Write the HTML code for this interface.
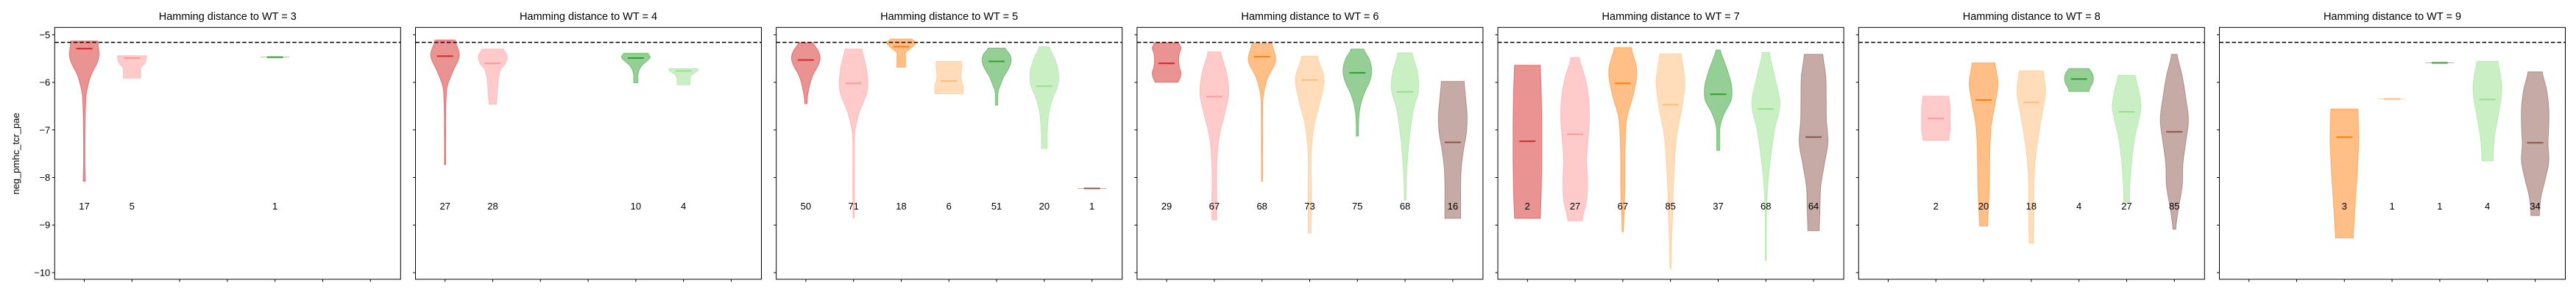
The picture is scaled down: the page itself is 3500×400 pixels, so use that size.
<!DOCTYPE html>
<html><head><meta charset="utf-8"><style>
html,body{margin:0;padding:0;background:#fff;}
svg{display:block;font-family:"Liberation Sans","DejaVu Sans",sans-serif;}
</style></head><body>
<svg id="chart" width="3500" height="400" viewBox="0 0 3500 400" xmlns="http://www.w3.org/2000/svg"></svg>
<script>
const panelTitles = ["Hamming distance to WT = 3","Hamming distance to WT = 4","Hamming distance to WT = 5","Hamming distance to WT = 6","Hamming distance to WT = 7","Hamming distance to WT = 8","Hamming distance to WT = 9"];
const yTicks = [-5,-6,-7,-8,-9,-10];
const yTickLabels = ["\u22125","\u22126","\u22127","\u22128","\u22129","\u221210"];
const categories = [0,1,2,3,4,5,6];
const wtLine = -5.16;
const countLabelY = -8.6;
const seriesColors = ["#d62728","#ff9896","#ff7f0e","#ffbb78","#2ca02c","#98df8a","#8c564b"];
// each violin: category, count, top, bottom, median, relative width profile (top -> bottom)
const panel3 = [
 {c:0,n:17,top:-5.13,bot:-8.08,med:-5.29,w:[0.95,1.0,0.45,0.15,0.08,0.06,0.05,0.05,0.08]},
 {c:1,n:5,top:-5.44,bot:-5.91,med:-5.49,w:[1,1,0.95,0.85,0.65,0.6,0.6,0.6,0.6]},
 {c:4,n:1,top:-5.47,bot:-5.47,med:-5.47,w:[1]}
];
const panel4 = [
 {c:0,n:27,top:-5.11,bot:-7.73,med:-5.45,w:[0.7,1.0,0.55,0.15,0.07,0.05,0.05,0.04,0.05]},
 {c:1,n:28,top:-5.30,bot:-6.46,med:-5.60,w:[0.75,1.0,0.9,0.55,0.42,0.36,0.33,0.3,0.25]},
 {c:4,n:10,top:-5.39,bot:-6.01,med:-5.49,w:[0.85,1.0,0.8,0.5,0.3,0.2,0.15,0.15,0.15]},
 {c:5,n:4,top:-5.71,bot:-6.05,med:-5.76,w:[1,1,0.8,0.6,0.5,0.45,0.45,0.45,0.45]}
];
const panel5 = [
 {c:0,n:50,top:-5.17,bot:-6.45,med:-5.53,w:[0.5,0.85,1.0,0.85,0.55,0.35,0.22,0.12,0.08]},
 {c:1,n:71,top:-5.30,bot:-8.85,med:-6.02,w:[0.6,0.92,0.95,0.4,0.08,0.05,0.05,0.05,0.04]},
 {c:2,n:18,top:-5.09,bot:-5.68,med:-5.25,w:[0.75,1.0,0.85,0.55,0.3,0.3,0.3,0.3,0.3]},
 {c:3,n:6,top:-5.56,bot:-6.24,med:-5.97,w:[0.88,0.9,0.88,0.85,0.85,0.9,0.98,1.0,1.0]},
 {c:4,n:51,top:-5.28,bot:-6.48,med:-5.56,w:[0.6,0.95,1.0,0.8,0.5,0.3,0.12,0.08,0.08]},
 {c:5,n:20,top:-5.25,bot:-7.39,med:-6.08,w:[0.35,0.75,0.98,0.95,0.6,0.35,0.25,0.2,0.2]},
 {c:6,n:1,top:-8.23,bot:-8.23,med:-8.23,w:[1]}
];
const panel6 = [
 {c:0,n:29,top:-5.17,bot:-6.00,med:-5.60,w:[0.85,1.0,0.9,0.85,0.85,0.9,1.0,0.95,0.8]},
 {c:1,n:67,top:-5.36,bot:-8.89,med:-6.30,w:[0.45,0.85,1.0,0.7,0.35,0.2,0.15,0.17,0.17]},
 {c:2,n:68,top:-5.18,bot:-8.08,med:-5.46,w:[0.7,0.95,0.4,0.1,0.06,0.05,0.05,0.04,0.04]},
 {c:3,n:73,top:-5.45,bot:-9.17,med:-5.95,w:[0.55,1.0,0.75,0.35,0.15,0.1,0.12,0.12,0.1]},
 {c:4,n:75,top:-5.30,bot:-7.13,med:-5.80,w:[0.45,0.85,1.0,0.85,0.5,0.25,0.12,0.08,0.08]},
 {c:5,n:68,top:-5.38,bot:-8.48,med:-6.20,w:[0.5,0.85,0.95,0.6,0.4,0.25,0.15,0.08,0.06]},
 {c:6,n:16,top:-5.98,bot:-8.86,med:-7.26,w:[0.8,0.9,1.0,0.95,0.75,0.6,0.55,0.55,0.55]}
];
const panel7 = [
 {c:0,n:2,top:-5.64,bot:-8.86,med:-7.24,w:[0.9,0.95,0.98,1,1,1,0.98,0.95,0.9]},
 {c:1,n:27,top:-5.48,bot:-8.91,med:-7.09,w:[0.3,0.7,0.95,1.0,0.9,0.8,0.85,0.8,0.5]},
 {c:2,n:67,top:-5.27,bot:-9.14,med:-6.02,w:[0.6,0.98,0.75,0.3,0.18,0.15,0.15,0.1,0.05]},
 {c:3,n:85,top:-5.40,bot:-9.91,med:-6.47,w:[0.75,1.0,0.8,0.45,0.3,0.2,0.15,0.08,0.04]},
 {c:4,n:37,top:-5.32,bot:-7.43,med:-6.25,w:[0.15,0.45,0.75,0.95,0.9,0.45,0.15,0.1,0.1]},
 {c:5,n:68,top:-5.37,bot:-9.74,med:-6.56,w:[0.25,0.65,0.98,0.6,0.35,0.15,0.06,0.04,0.04]},
 {c:6,n:64,top:-5.41,bot:-9.12,med:-7.15,w:[0.65,0.85,0.88,0.9,1.0,0.75,0.5,0.45,0.4]}
];
const panel8 = [
 {c:1,n:2,top:-6.29,bot:-7.22,med:-6.76,w:[0.9,0.95,1,1,1,1,1,0.95,0.9]},
 {c:2,n:20,top:-5.59,bot:-9.02,med:-6.37,w:[0.8,1.0,0.8,0.55,0.45,0.42,0.4,0.35,0.28]},
 {c:3,n:18,top:-5.76,bot:-9.38,med:-6.42,w:[0.85,1.0,0.75,0.5,0.3,0.2,0.18,0.18,0.15]},
 {c:4,n:4,top:-5.71,bot:-6.19,med:-5.93,w:[0.7,0.85,0.95,1,1,0.95,0.85,0.75,0.7]},
 {c:5,n:27,top:-5.85,bot:-8.52,med:-6.62,w:[0.6,0.85,1.0,0.8,0.55,0.4,0.3,0.22,0.2]},
 {c:6,n:85,top:-5.41,bot:-9.09,med:-7.04,w:[0.2,0.55,0.8,0.98,0.8,0.6,0.55,0.3,0.1]}
];
const panel9 = [
 {c:2,n:3,top:-6.56,bot:-9.27,med:-7.15,w:[0.95,0.98,1.0,0.95,0.9,0.82,0.75,0.68,0.62]},
 {c:3,n:1,top:-6.35,bot:-6.35,med:-6.35,w:[1]},
 {c:4,n:1,top:-5.59,bot:-5.59,med:-5.59,w:[1]},
 {c:5,n:4,top:-5.56,bot:-7.65,med:-6.36,w:[0.75,0.9,1.0,0.95,0.8,0.65,0.5,0.42,0.4]},
 {c:6,n:34,top:-5.78,bot:-8.80,med:-7.27,w:[0.5,0.8,0.95,0.95,0.9,0.95,0.7,0.4,0.3]}
];
const panels = [panel3,panel4,panel5,panel6,panel7,panel8,panel9];

const NS = "http://www.w3.org/2000/svg";
const svg = document.getElementById('chart');
const AX_TOP = 37.3, AX_BOT = 380, AX_W = 470, AX_L0 = 74.3, STRIDE = 490.2;
const PX_PER_UNIT = 64.8, XMIN = -0.62, VMAX_W = 39;
function yScale(v){ return 47.3 + (-5 - v) * 64.73; }
function xScale(p, c){ return AX_L0 + p * STRIDE + (c - XMIN) * PX_PER_UNIT; }
function mk(tag, attrs, parent){ const e = document.createElementNS(NS, tag); for (const k in attrs) e.setAttribute(k, attrs[k]); (parent||svg).appendChild(e); return e; }

function profile(w, t){ // catmull-rom on uniform samples, t in [0,1]
  if (w.length === 1) return w[0];
  const f = t * (w.length - 1); let i = Math.floor(f); if (i >= w.length - 1) i = w.length - 2;
  const u = f - i;
  const p0 = w[Math.max(i-1,0)], p1 = w[i], p2 = w[i+1], p3 = w[Math.min(i+2,w.length-1)];
  const r = 0.5*((2*p1)+(-p0+p2)*u+(2*p0-5*p1+4*p2-p3)*u*u+(-p0+3*p1-3*p2+p3)*u*u*u);
  return Math.max(0.02, r);
}

panels.forEach((vs, p) => {
  const g = mk('g', {});
  
  
  const left = AX_L0 + p * STRIDE;
  const title = mk('text', {x: left + AX_W/2, y: 27, 'text-anchor': 'middle', 'font-size': 14.5, fill: '#000'}, g);
  title.textContent = panelTitles[p];
  
  
  // y ticks
  yTicks.forEach((t, i) => {
    const y = yScale(t);
    const tk = mk('line', {x1: left - 3.5, x2: left, y1: y, y2: y, stroke: '#000', 'stroke-width': 1}, g);
    
    
    if (p === 0) {
      const tl = mk('text', {x: left - 6, y: y + 4.5, 'text-anchor': 'end', 'font-size': 13, fill: '#000'}, g);
      tl.textContent = yTickLabels[i];
      
      
    }
  });
  categories.forEach(c => {
    const x = xScale(p, c);
    const tk = mk('line', {x1: x, x2: x, y1: AX_BOT, y2: AX_BOT + 3.5, stroke: '#000', 'stroke-width': 1}, g);
    
    
  });
  // violins
  vs.forEach(v => {
    const cx = xScale(p, v.c), col = seriesColors[v.c];
    const yt = yScale(v.top), yb = yScale(v.bot);
    const vg = mk('g', {}, g);
    
    
    if (v.n === 1 || yb - yt < 0.5) {
      const l = mk('line', {x1: cx - VMAX_W/2, x2: cx + VMAX_W/2, y1: yt, y2: yt, stroke: col, 'stroke-opacity': 0.5, 'stroke-width': 1}, vg);
      
      
    } else {
      const N = 60, right = [], leftp = [];
      for (let k = 0; k <= N; k++) {
        const t = k / N, y = yt + (yb - yt) * t, hw = profile(v.w, t) * VMAX_W / 2;
        right.push((cx + hw).toFixed(2) + ',' + y.toFixed(2));
        leftp.unshift((cx - hw).toFixed(2) + ',' + y.toFixed(2));
      }
      const body = mk('polygon', {points: right.concat(leftp).join(' '), fill: col, 'fill-opacity': 0.5, stroke: col, 'stroke-opacity': 0.5, 'stroke-width': 1}, vg);
      
      
    }
    const ym = yScale(v.med);
    const med = mk('line', {x1: cx - 11, x2: cx + 11, y1: ym, y2: ym, stroke: col, 'stroke-width': 2}, vg);
    
    
    const ct = mk('text', {x: cx, y: yScale(countLabelY) + 4.5, 'text-anchor': 'middle', 'font-size': 13, fill: '#000'}, g);
    ct.textContent = String(v.n);
    
    
  });
  const wl = mk('line', {x1: left, x2: left + AX_W, y1: yScale(wtLine), y2: yScale(wtLine), stroke: '#000', 'stroke-width': 1.5, 'stroke-dasharray': '5.5,3'}, g);
  
  
  const fr = mk('rect', {x: left, y: AX_TOP, width: AX_W, height: AX_BOT - AX_TOP, fill: 'none', stroke: '#000', 'stroke-width': 1}, g);
  
  
});
const yl = mk('text', {x: 0, y: 0, transform: 'translate(26,209) rotate(-90)', 'text-anchor': 'middle', 'font-size': 13, fill: '#000'});
yl.textContent = 'neg_pmhc_tcr_pae';


</script>
</body></html>
